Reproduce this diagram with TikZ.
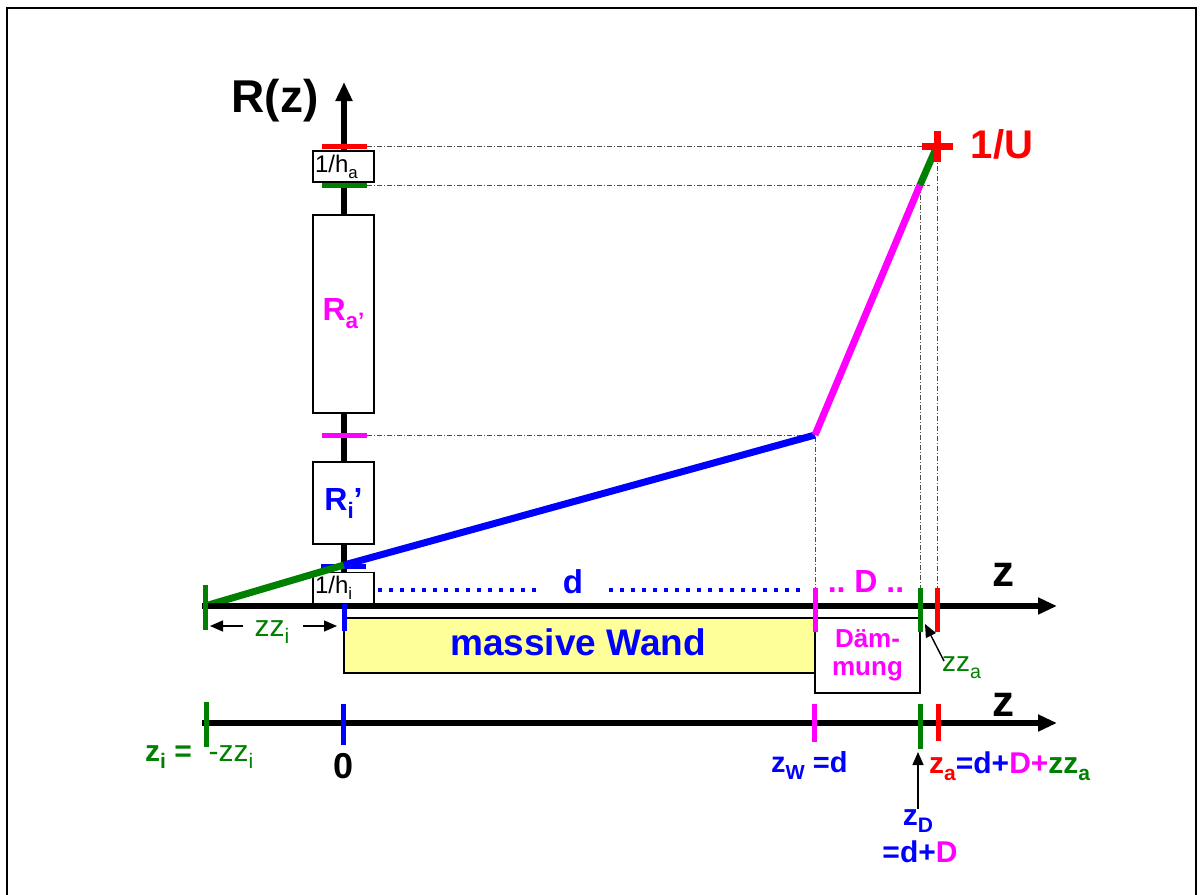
\documentclass[tikz,border=0pt]{standalone}
\usepackage{fontspec}
\setmainfont{Liberation Sans}
\usetikzlibrary{arrows.meta}
\definecolor{grn}{HTML}{008000}
\definecolor{mag}{HTML}{FF00FF}
\definecolor{blu}{HTML}{0000FF}
\definecolor{rd}{HTML}{FF0000}
\definecolor{wandfill}{HTML}{FFFF99}
\newcommand\lo[1]{\raisebox{-0.25em}{\scalebox{0.7}{#1}}}
\newcommand\fsz[1]{\fontsize{#1}{#1}\selectfont}
\begin{document}
\begin{tikzpicture}[x=1pt,y=-1pt,
 axis/.style={line width=5.5pt,-{Triangle[length=19pt,width=16pt]}},
 rbox/.style={draw,line width=1.5pt,fill=white,inner sep=0pt,minimum width=61pt},
 tickmark/.style={line width=5pt},
 curve/.style={line width=7pt},
 guide/.style={line width=0.8pt,black!70,dash pattern=on 5pt off 2pt on 1pt off 2pt},
 smallarr/.style={line width=1.4pt,-{Triangle[length=13pt,width=11pt]}},
 lbl/.style={inner sep=0pt,font=\bfseries}
]
\clip (0,0) rectangle (1204,894);
\draw[line width=2pt] (7,8) rectangle (1196,910);

% curve points
\coordinate (P0) at (205,606);
\coordinate (P1) at (344,565);
\coordinate (P2) at (815,435);
\coordinate (P3) at (920,185);
\coordinate (P4) at (937,146);
\coordinate (G1) at (367,146);
\coordinate (G2) at (367,185);
\coordinate (G3) at (367,435);
\coordinate (F2) at (815,590);
\coordinate (F3) at (920,590);
\coordinate (F4) at (937,590);
\coordinate (G3e) at (930,185);

% guides
\draw[guide] (G1) -- (P4) -- (F4);
\draw[guide] (G2) -- (G3e);
\draw[guide] (P3) -- (F3);
\draw[guide] (G3) -- (P2) -- (F2);

% R axis
\draw[axis] (344,606) -- (344,82);
\node[lbl,font=\bfseries\fsz{46}] (Rz) at (275,101) {R(z)};

% boxes on R axis
\node[rbox,minimum height=31pt] (ha) at (343.5,166.5) {\makebox[57pt][l]{\fsz{24}1/h\lo{a}}};
\node[rbox,minimum height=198pt] (Ra) at (343.5,314) {\textcolor{mag}{\bfseries\fsz{32}R\lo{a’}}};
\node[rbox,minimum height=82pt] (Ri) at (343.5,503) {\textcolor{blu}{\bfseries\fsz{32}R\lo{i}’}};
\node[rbox,minimum height=31pt] (hi) at (343.5,588) {\makebox[57pt][l]{\fsz{24}1/h\lo{i}}};

% ticks on R axis
\draw[tickmark,rd] (322,146) -- (367,146);
\draw[tickmark,grn] (322,185) -- (367,185);
\draw[tickmark,mag] (322,435) -- (367,435);
\draw[tickmark,blu] (321,566) -- (366,566);

% R(z) curve
\draw[curve,grn] (P0) -- (P1);
\draw[curve,blu] (P1) -- (P2);
\draw[curve,mag] (P2) -- (P3);
\draw[curve,grn] (P3) -- (P4);
\draw[rd,line width=7pt] (922,146) -- (953,146) (937,131) -- (937,162);
\node[lbl,text=rd,font=\bfseries\fsz{40}] (U) at (1002,144) {1/U};

% wall boxes
\node[draw,fill=wandfill,line width=1.5pt,inner sep=0pt,minimum width=471pt,minimum height=55pt] (wand) at (579.5,645.5) {};
\node[lbl,text=blu,font=\bfseries\fsz{37}] (wandt) at (578,642) {massive Wand};
\node[draw,fill=white,line width=1.5pt,inner sep=0pt,minimum width=105pt,minimum height=75pt] (daem) at (867.5,655.5) {};
\node[lbl,text=mag,align=center,font=\bfseries\fontsize{26}{28}\selectfont] (daemt) at (867.5,655) {Däm-\\mung};

% z axes
\draw[axis] (202,606) -- (1057,606);
\draw[axis] (202,723) -- (1057,723);
\node[lbl,font=\bfseries\fsz{44}] (z1) at (1003,575) {z};
\node[lbl,font=\bfseries\fsz{44}] (z2) at (1003,705) {z};

% ticks on first z axis
\draw[tickmark,grn] (205,585) -- (205,630);
\draw[tickmark,blu] (344,604) -- (344,631);
\draw[tickmark,mag] (815,588) -- (815,632);
\draw[tickmark,grn] (920,588) -- (920,632);
\draw[tickmark,rd] (937,588) -- (937,632);

% ticks on second z axis
\draw[tickmark,grn] (206,702) -- (206,747);
\draw[tickmark,blu] (343,704) -- (343,745);
\draw[tickmark,mag] (814,704) -- (814,742);
\draw[tickmark,grn] (920,704) -- (920,749);
\draw[tickmark,rd] (938,704) -- (938,741);

% d and D dimension
\draw[blu,line width=4pt,dash pattern=on 4pt off 7pt] (378,590) -- (540,590);
\draw[blu,line width=4pt,dash pattern=on 4pt off 7pt] (609,590) -- (801,590);
\node[lbl,text=blu,font=\bfseries\fsz{33},anchor=base] (dlbl) at (573,593) {d};
\node[lbl,text=mag,font=\bfseries\fsz{32},anchor=base] (Dlbl) at (866,592) {..~D~..};

% zz_i
\node[inner sep=0pt,text=grn,font=\fsz{30},anchor=base] (zzi) at (272,636) {zz\lo{i}};
\coordinate (zziL) at (243,626);
\coordinate (zziR) at (303,626);
\draw[smallarr] (zziL) -- (210,626);
\draw[smallarr] (zziR) -- (337,626);

% zz_a
\node[inner sep=0pt,text=grn,font=\fsz{28},anchor=base west] (zza) at (942,671) {zz\lo{a}};
\coordinate (zzaT) at (925,624);
\draw[smallarr] (944,661) -- (zzaT);

% bottom labels
\node[inner sep=0pt,text=grn,font=\fsz{30},anchor=base west] (zi) at (145,761) {\bfseries z\lo{i} =\mdseries\ \ -zz\lo{i}};
\node[lbl,font=\bfseries\fsz{36}] (zero) at (344,766) {0};
\node[lbl,text=blu,font=\bfseries\fsz{29},anchor=base west] (zw) at (771,772) {z\lo{W} =d};
\node[lbl,font=\bfseries\fsz{30},anchor=base west] (za) at (929,773) {\textcolor{rd}{z\lo{a}}\textcolor{blu}{=d+}\textcolor{mag}{D+}\textcolor{grn}{zz\lo{a}}};
\node[lbl,text=blu,font=\bfseries\fsz{30},anchor=base] (zD) at (918,825) {z\lo{D}};
\node[lbl,font=\bfseries\fsz{30},anchor=base] (zDe) at (920,862) {\textcolor{blu}{=d+}\textcolor{mag}{D}};
\coordinate (zDtip) at (918,752);
\draw[smallarr] (zD.north) -- (zDtip);
\end{tikzpicture}
\end{document}
